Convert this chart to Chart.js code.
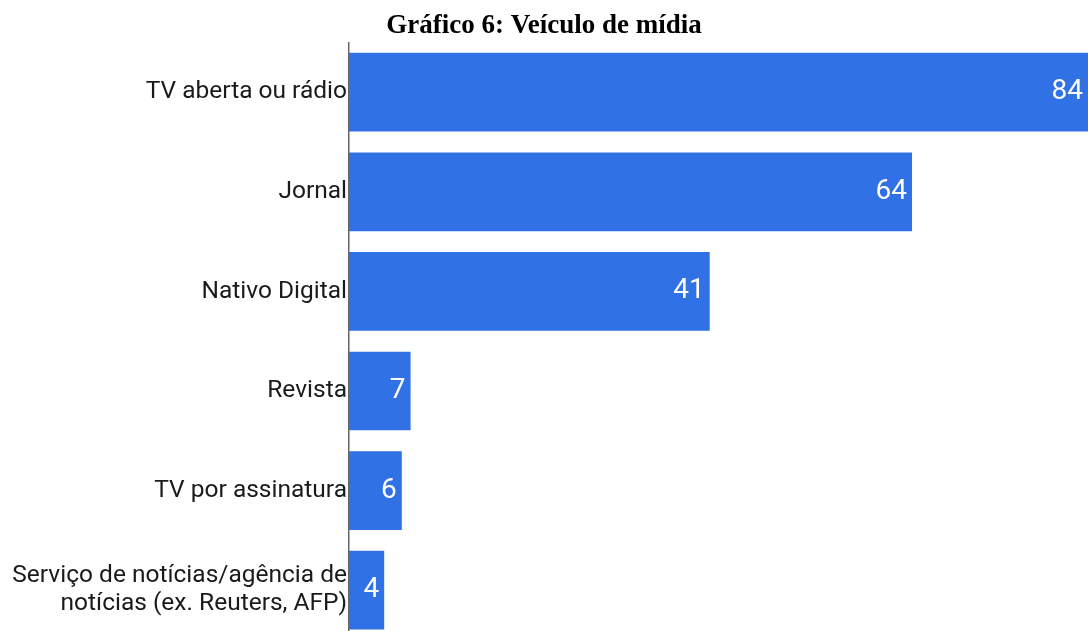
<!DOCTYPE html>
<html lang="pt-BR">
<head>
<meta charset="utf-8">
<title>Veículo de mídia</title>
<script src="https://cdn.jsdelivr.net/npm/chart.js@4.4.1/dist/chart.umd.min.js"></script>
<style>
  html, body { margin: 0; padding: 0; background: #fff; overflow: hidden; }
  #wrap { position: relative; width: 1088px; height: 660px; }
</style>
</head>
<body>
<div id="wrap"><canvas id="mediaChart"></canvas></div>
<script>
const categories = [
    'TV aberta ou rádio',
    'Jornal',
    'Nativo Digital',
    'Revista',
    'TV por assinatura',
    ['Serviço de notícias/agência de', 'notícias (ex. Reuters, AFP)']
];
const respostas = [84, 64, 41, 7, 6, 4];

// value labels drawn inside the end of each bar
const barValueLabels = {
    id: 'barValueLabels',
    afterDatasetsDraw(chart) {
        const ctx = chart.ctx;
        const meta = chart.getDatasetMeta(0);
        ctx.save();
        ctx.font = '28px Roboto';
        ctx.fillStyle = '#ffffff';
        ctx.textAlign = 'right';
        ctx.textBaseline = 'middle';
        meta.data.forEach((bar, i) => {
            ctx.fillText(String(respostas[i]), bar.x - 5, bar.y);
        });
        ctx.restore();
    }
};

new Chart(document.getElementById('mediaChart'), {
    type: 'bar',
    data: {
        labels: categories,
        datasets: [{
            data: respostas,
            backgroundColor: '#3171e6',
            borderWidth: 0,
            barPercentage: 0.79,
            categoryPercentage: 1
        }]
    },
    options: {
        indexAxis: 'y',
        responsive: true,
        maintainAspectRatio: false,
        animation: false,
        layout: { padding: { left: 0, right: 0, top: 0, bottom: 20 } },
        plugins: {
            legend: { display: false },
            tooltip: { enabled: false },
            title: {
                display: true,
                text: 'Gráfico 6: Veículo de mídia',
                color: '#000',
                font: { family: 'Liberation Serif', size: 27, weight: 'bold' },
                padding: { top: 10, bottom: 0 }
            }
        },
        scales: {
            x: {
                display: false,
                min: 0,
                max: 84
            },
            y: {
                grid: { display: false, drawTicks: false },
                border: { display: true, color: '#666', width: 1.5 },
                ticks: {
                    color: '#1a1a1a',
                    padding: 2,
                    font: { family: 'Roboto', size: 24.5, lineHeight: 1.15 }
                },
                afterFit(scale) {
                    scale.width = 349;
                }
            }
        }
    },
    plugins: [barValueLabels]
});
</script>
</body>
</html>
